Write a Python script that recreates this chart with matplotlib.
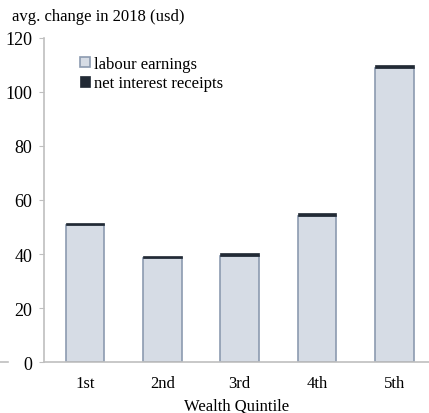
import matplotlib.pyplot as plt
import numpy as np

plt.rcParams["font.family"] = ["Liberation Serif", "DejaVu Serif"]

quintiles = ["1st", "2nd", "3rd", "4th", "5th"]
labour = [50.6, 38.5, 39.4, 54.1, 108.9]
interest = [0.8, 0.8, 1.0, 1.1, 0.9]

fig = plt.figure(figsize=(4.29, 4.14), dpi=100)
ax = fig.add_axes([0.1026, 0.123, 0.8974, 0.783])

x = np.arange(len(quintiles))
ax.bar(x, labour, width=0.5, color="#d6dce5", edgecolor="#8c9bb0", linewidth=1.2,
       label="labour earnings")
ax.bar(x, interest, width=0.5, bottom=labour, color="#222a35", edgecolor="#222a35",
       linewidth=0.5, label="net interest receipts")

ax.set_xlim(-0.53, 4.45)
ax.set_ylim(0, 120)
ax.set_yticks(range(0, 121, 20))
ax.set_xticks(x)
ax.set_xticklabels(quintiles)
ax.set_xlabel("Wealth Quintile", fontsize=12, labelpad=5)

for s in ["top", "right"]:
    ax.spines[s].set_visible(False)
ax.spines["left"].set_color("#bfbfbf")
ax.spines["bottom"].set_color("#bfbfbf")
ax.spines["left"].set_linewidth(1.2)
ax.spines["bottom"].set_linewidth(1.2)
ax.tick_params(axis="y", colors="#bfbfbf", labelcolor="black", labelsize=13, length=3.5, pad=5)
ax.tick_params(axis="x", length=0, labelsize=12, pad=9)

# stray tick mark at the far left of the baseline
fig.add_artist(plt.Line2D([0.0, 0.019], [0.123, 0.123], color="#bfbfbf", linewidth=1.2))

fig.text(0.028, 0.978, "avg. change in 2018 (usd)", fontsize=12, va="top", ha="left")

ax.legend(loc="upper left", bbox_to_anchor=(0.075, 0.965), frameon=False, fontsize=12,
          handlelength=0.6, handleheight=0.6, handletextpad=0.25, labelspacing=0.2,
          borderaxespad=0)

fig.savefig("out.png", dpi=100)
